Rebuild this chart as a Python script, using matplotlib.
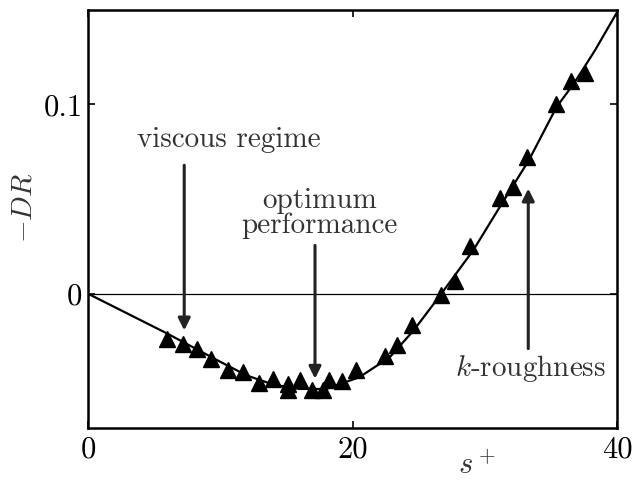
import matplotlib
matplotlib.use('Agg')
import matplotlib.pyplot as plt

plt.rcParams['font.family'] = ['cmr10', 'DejaVu Serif']
plt.rcParams['mathtext.fontset'] = 'cm'
plt.rcParams['axes.formatter.use_mathtext'] = True

# measured drag change, triangles
s_data = [5.94, 7.14, 8.23, 9.29, 10.57, 11.73, 12.92, 14.0, 15.13, 15.14,
          16.0, 16.92, 17.75, 18.22, 19.16, 20.28, 22.41, 23.35, 24.49, 26.65,
          27.69, 28.89, 31.09, 32.13, 33.19, 35.37, 36.52, 37.55]
dr_data = [-0.0238, -0.0264, -0.0291, -0.0343, -0.0405, -0.0416, -0.0474, -0.0453,
           -0.0476, -0.0508, -0.0458, -0.0507, -0.0507, -0.0458, -0.0463, -0.0403,
           -0.0329, -0.0273, -0.0167, -0.0005, 0.0065, 0.025, 0.0506, 0.0563,
           0.072, 0.1004, 0.1121, 0.1166]

# fitted curve
s_fit = [0, 6, 10, 12, 14, 16, 18, 19, 20.5, 22.8, 24.6, 26.6, 29.1, 31.1,
         33.3, 35.4, 36.7, 38.3, 40]
dr_fit = [0, -0.0211, -0.036, -0.0432, -0.048, -0.0503, -0.0503, -0.0478, -0.0441,
          -0.0335, -0.0194, -0.0009, 0.0229, 0.0457, 0.0704, 0.0986, 0.1109,
          0.1285, 0.149]

txt_col = '#333333'

fig = plt.figure(figsize=(6.33, 4.8), dpi=100)
ax = fig.add_axes([0.139, 0.108, 0.8365, 0.872])

ax.axhline(0, color='black', lw=0.9)
ax.plot(s_fit, dr_fit, color='black', lw=1.6)
ax.plot(s_data, dr_data, '^', color='black', ms=11.5)

arrow = dict(arrowstyle='-|>', color='#222222', lw=2.2, mutation_scale=18,
             shrinkA=0, shrinkB=0)
ax.annotate('', xy=(7.27, -0.0194), xytext=(7.27, 0.0678), arrowprops=arrow)
ax.annotate('', xy=(17.15, -0.0449), xytext=(17.15, 0.0255), arrowprops=arrow)
ax.annotate('', xy=(33.26, 0.0555), xytext=(33.26, -0.029), arrowprops=arrow)

ax.text(10.65, 0.081, 'viscous regime', ha='center', va='center', fontsize=21, color=txt_col)
ax.text(17.5, 0.0425, 'optimum\nperformance', ha='center', va='center', fontsize=21,
        color=txt_col, linespacing=0.9)
ax.text(33.45, -0.0395, '$k$-roughness', ha='center', va='center', fontsize=21, color=txt_col)

ax.set_xlim(0, 40)
ax.set_ylim(-0.071, 0.15)
ax.set_xticks([0, 20, 40])
ax.set_xticklabels(['0', '20', '40'])
ax.set_yticks([0, 0.1])
ax.set_yticklabels(['0', '0.1'])
ax.tick_params(direction='in', length=5, width=1.2, top=True, right=True,
               labelsize=22)
ax.tick_params(axis='x', pad=6)
ax.tick_params(axis='y', pad=4)

ax.set_xlabel('$s^+$', fontsize=22, color=txt_col)
ax.xaxis.set_label_coords(0.735, -0.055)
ax.set_ylabel('$-DR$', fontsize=21, color=txt_col)
ax.yaxis.set_label_coords(-0.096, 0.526)

for sp in ax.spines.values():
    sp.set_linewidth(1.8)

fig.savefig('out.png', dpi=100)
